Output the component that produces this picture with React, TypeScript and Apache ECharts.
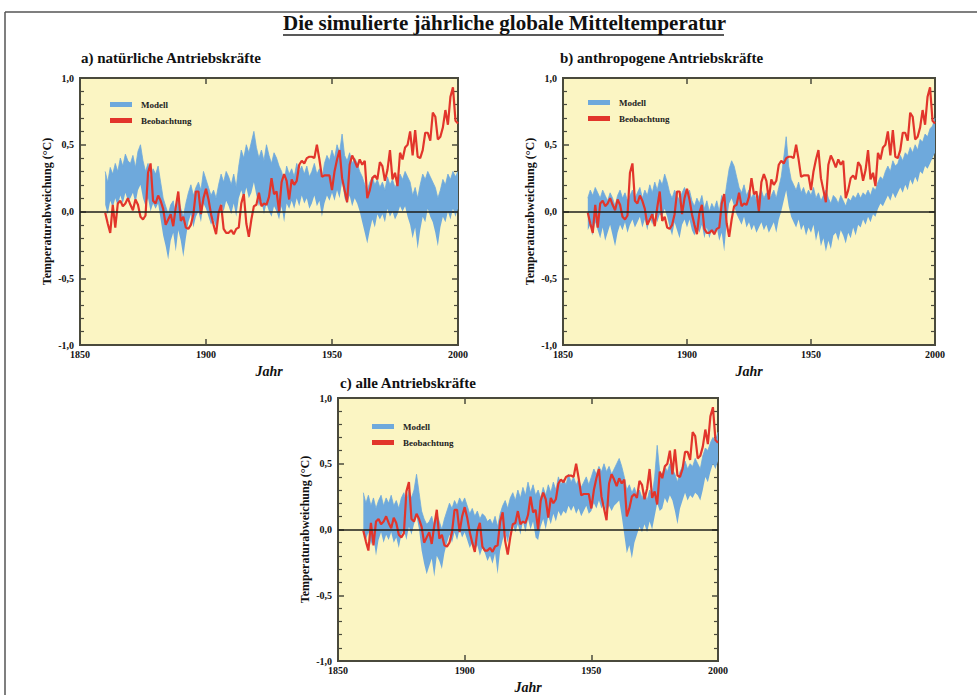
import React, { useEffect, useRef } from "react";
import * as echarts from "echarts";

const SERIF = '"Liberation Serif", "DejaVu Serif", serif';
const BLUE = "#6ea9dc";
const RED = "#e2352b";
const FRAME = "#4a4a3c";
const PLOT_BG = "#fbf5c3";

const TITLE = "Die simulierte jährliche globale Mitteltemperatur";
const PANEL_TITLES = ["a) natürliche Antriebskräfte", "b) anthropogene Antriebskräfte", "c) alle Antriebskräfte"];
const LEGEND_NAMES = ["Modell", "Beobachtung"];
const Y_NAME = "Temperaturabweichung (°C)";
const X_NAME = "Jahr";
const FIRST_YEAR = 1850;
const LAST_YEAR = 2000;
const DATA_START = 1860;
const YEARS = Array.from({ length: LAST_YEAR - FIRST_YEAR + 1 }, (_, i) => String(FIRST_YEAR + i));

// Beobachtung 1860–2000
const OBS = [
  -0.01, -0.09, -0.16, 0.05, -0.12, 0.06, 0.08, 0.04, 0.06, 0.10,
  0.05, 0.01, 0.09, 0.05, -0.04, -0.06, -0.03, 0.29, 0.36, 0.08,
  0.06, 0.12, 0.08, 0.02, -0.10, -0.06, -0.02, -0.11, 0.03, 0.15,
  -0.07, -0.04, -0.12, -0.13, -0.10, -0.02, 0.15, 0.15, -0.02, 0.10,
  0.17, 0.09, -0.02, -0.10, -0.17, -0.01, 0.05, -0.13, -0.16, -0.16,
  -0.14, -0.17, -0.13, -0.12, 0.06, 0.13, -0.09, -0.19, -0.06, 0.04,
  0.05, 0.14, 0.04, 0.06, 0.05, 0.11, 0.25, 0.13, 0.15, 0.00,
  0.22, 0.28, 0.23, 0.09, 0.24, 0.20, 0.23, 0.35, 0.38, 0.36,
  0.40, 0.41, 0.41, 0.40, 0.50, 0.39, 0.26, 0.27, 0.27, 0.27,
  0.16, 0.30, 0.39, 0.46, 0.25, 0.16, 0.07, 0.35, 0.42, 0.38,
  0.33, 0.39, 0.35, 0.38, 0.10, 0.16, 0.25, 0.27, 0.24, 0.37,
  0.34, 0.23, 0.31, 0.46, 0.24, 0.29, 0.19, 0.44, 0.39, 0.48,
  0.50, 0.60, 0.42, 0.61, 0.41, 0.40, 0.46, 0.59, 0.59, 0.53,
  0.74, 0.71, 0.54, 0.56, 0.63, 0.76, 0.65, 0.86, 0.93, 0.68, 0.66,
];

// a) natürliche Antriebskräfte – Modellbereich
const NAT_HIGH = [
  0.30, 0.22, 0.33, 0.28, 0.36, 0.30, 0.40, 0.34, 0.43, 0.38,
  0.36, 0.42, 0.33, 0.45, 0.50, 0.38, 0.30, 0.36, 0.25, 0.32,
  0.28, 0.34, 0.22, 0.10, 0.04, -0.02, 0.05, 0.08, -0.04, 0.10,
  0.02, -0.04, 0.06, 0.14, 0.20, 0.12, 0.18, 0.22, 0.16, 0.30,
  0.24, 0.18, 0.12, 0.16, 0.10, 0.20, 0.28, 0.22, 0.30, 0.26,
  0.20, 0.28, 0.18, 0.34, 0.46, 0.40, 0.50, 0.44, 0.52, 0.60,
  0.48, 0.40, 0.46, 0.38, 0.50, 0.42, 0.36, 0.44, 0.40, 0.34,
  0.30, 0.22, 0.34, 0.28, 0.32, 0.26, 0.36, 0.30, 0.34, 0.28,
  0.34, 0.26, 0.30, 0.36, 0.28, 0.32, 0.24, 0.36, 0.42, 0.38,
  0.46, 0.40, 0.50, 0.44, 0.58, 0.42, 0.38, 0.44, 0.36, 0.40,
  0.36, 0.30, 0.26, 0.20, 0.16, 0.22, 0.26, 0.20, 0.24, 0.18,
  0.22, 0.16, 0.26, 0.20, 0.24, 0.18, 0.22, 0.28, 0.24, 0.30,
  0.26, 0.22, 0.12, 0.18, 0.10, 0.20, 0.28, 0.24, 0.30, 0.26,
  0.22, 0.18, 0.10, 0.16, 0.24, 0.20, 0.28, 0.24, 0.30, 0.26, 0.30,
];
const NAT_LOW = [
  0.05, -0.02, 0.08, 0.03, 0.10, 0.04, 0.12, 0.06, 0.14, 0.08,
  0.10, 0.14, 0.06, 0.16, 0.20, 0.10, 0.04, 0.10, 0.00, 0.06,
  0.02, 0.06, -0.06, -0.18, -0.26, -0.36, -0.22, -0.16, -0.30, -0.14,
  -0.22, -0.34, -0.20, -0.08, -0.02, -0.12, -0.04, 0.00, -0.08, 0.06,
  0.02, -0.04, -0.10, -0.06, -0.12, -0.02, 0.06, 0.00, 0.08, 0.04,
  -0.02, 0.06, -0.04, 0.10, 0.16, 0.10, 0.18, 0.10, 0.14, 0.22,
  0.12, 0.04, 0.08, -0.02, 0.06, 0.00, -0.04, 0.04, 0.00, -0.06,
  0.04, -0.08, 0.06, 0.02, 0.08, 0.02, 0.10, 0.04, 0.12, 0.06,
  0.10, 0.02, 0.06, 0.12, 0.04, 0.08, -0.04, 0.06, 0.12, 0.08,
  0.14, 0.08, 0.16, 0.10, 0.22, 0.10, 0.06, 0.12, 0.04, 0.10,
  0.06, 0.00, -0.08, -0.16, -0.24, -0.14, -0.06, -0.12, -0.02, -0.06,
  -0.02, -0.08, 0.02, -0.04, 0.00, -0.06, -0.02, 0.04, 0.00, 0.04,
  -0.04, -0.10, -0.20, -0.12, -0.28, -0.14, -0.04, -0.08, 0.02, -0.04,
  -0.08, -0.16, -0.26, -0.12, -0.04, -0.08, 0.00, -0.06, 0.02, -0.04, 0.02,
];

// b) anthropogene Antriebskräfte – Modellbereich
const ANT_HIGH = [
  0.10, 0.16, 0.12, 0.18, 0.14, 0.10, 0.16, 0.12, 0.08, 0.14,
  0.10, 0.04, 0.12, 0.16, 0.10, 0.14, 0.08, 0.12, 0.16, 0.10,
  0.14, 0.18, 0.10, 0.16, 0.12, 0.20, 0.14, 0.22, 0.16, 0.24,
  0.20, 0.28, 0.22, 0.14, 0.10, 0.16, 0.12, 0.08, 0.14, 0.18,
  0.12, 0.16, 0.08, 0.04, 0.10, 0.06, 0.12, 0.02, 0.08, 0.00,
  0.06, 0.02, 0.08, 0.00, 0.12, 0.06, 0.20, 0.32, 0.38, 0.34,
  0.26, 0.18, 0.14, 0.20, 0.12, 0.16, 0.10, 0.14, 0.08, 0.12,
  0.16, 0.10, 0.14, 0.08, 0.12, 0.16, 0.10, 0.18, 0.26, 0.40,
  0.56, 0.34, 0.24, 0.20, 0.16, 0.22, 0.14, 0.18, 0.12, 0.16,
  0.12, 0.18, 0.10, 0.14, 0.08, 0.12, 0.16, 0.10, 0.06, 0.12,
  0.10, 0.06, 0.12, 0.08, 0.04, 0.10, 0.08, 0.12, 0.10, 0.14,
  0.10, 0.14, 0.12, 0.16, 0.12, 0.18, 0.16, 0.22, 0.26, 0.24,
  0.30, 0.34, 0.30, 0.38, 0.34, 0.36, 0.42, 0.38, 0.44, 0.42,
  0.48, 0.44, 0.50, 0.46, 0.54, 0.52, 0.58, 0.56, 0.62, 0.64, 0.70,
];
const ANT_LOW = [
  -0.14, -0.10, -0.18, -0.08, -0.14, -0.20, -0.12, -0.22, -0.16, -0.10,
  -0.18, -0.26, -0.16, -0.10, -0.14, -0.08, -0.16, -0.10, -0.06, -0.12,
  -0.08, -0.04, -0.12, -0.06, -0.14, -0.04, -0.10, 0.00, -0.08, -0.02,
  -0.04, 0.02, -0.04, -0.12, -0.18, -0.08, -0.14, -0.20, -0.10, -0.06,
  -0.12, -0.06, -0.14, -0.18, -0.12, -0.16, -0.10, -0.20, -0.12, -0.20,
  -0.14, -0.18, -0.12, -0.22, -0.16, -0.30, -0.08, 0.06, 0.10, 0.04,
  -0.02, -0.06, -0.10, -0.04, -0.12, -0.08, -0.14, -0.10, -0.16, -0.12,
  -0.08, -0.14, -0.10, -0.16, -0.12, -0.08, -0.16, -0.06, 0.00, 0.08,
  0.16, 0.04, -0.04, -0.08, -0.12, -0.06, -0.14, -0.10, -0.18, -0.12,
  -0.16, -0.10, -0.22, -0.14, -0.26, -0.20, -0.30, -0.22, -0.28, -0.18,
  -0.16, -0.22, -0.14, -0.18, -0.24, -0.16, -0.20, -0.12, -0.18, -0.10,
  -0.12, -0.06, -0.10, -0.04, -0.08, -0.02, -0.04, 0.02, 0.06, 0.04,
  0.08, 0.12, 0.08, 0.14, 0.10, 0.14, 0.18, 0.14, 0.20, 0.16,
  0.24, 0.20, 0.26, 0.22, 0.30, 0.28, 0.34, 0.32, 0.36, 0.40, 0.44,
];

// c) alle Antriebskräfte – Modellbereich
const ALL_HIGH = [
  0.28, 0.20, 0.26, 0.18, 0.24, 0.16, 0.22, 0.26, 0.18, 0.24,
  0.20, 0.26, 0.18, 0.22, 0.16, 0.24, 0.28, 0.20, 0.30, 0.24,
  0.30, 0.42, 0.28, 0.14, 0.08, 0.04, 0.06, 0.10, 0.02, 0.12,
  0.06, 0.00, 0.08, 0.14, 0.20, 0.16, 0.22, 0.18, 0.24, 0.20,
  0.24, 0.18, 0.12, 0.16, 0.10, 0.14, 0.08, 0.12, 0.10, 0.06,
  0.08, 0.04, 0.10, 0.02, 0.12, 0.18, 0.22, 0.16, 0.24, 0.28,
  0.22, 0.30, 0.24, 0.32, 0.26, 0.36, 0.28, 0.34, 0.26, 0.30,
  0.24, 0.32, 0.26, 0.34, 0.28, 0.36, 0.30, 0.40, 0.34, 0.38,
  0.34, 0.42, 0.36, 0.40, 0.34, 0.38, 0.32, 0.36, 0.40, 0.34,
  0.40, 0.46, 0.42, 0.48, 0.44, 0.50, 0.44, 0.48, 0.42, 0.46,
  0.50, 0.54, 0.48, 0.40, 0.30, 0.34, 0.28, 0.32, 0.26, 0.30,
  0.24, 0.28, 0.22, 0.30, 0.26, 0.40, 0.64, 0.44, 0.42, 0.48,
  0.44, 0.50, 0.46, 0.42, 0.36, 0.44, 0.48, 0.52, 0.46, 0.50,
  0.48, 0.54, 0.50, 0.46, 0.56, 0.62, 0.60, 0.66, 0.70, 0.68, 0.74,
];
const ALL_LOW = [
  0.00, -0.08, -0.02, -0.12, -0.06, -0.20, -0.08, -0.02, -0.10, -0.04,
  -0.08, -0.02, -0.10, -0.06, -0.14, -0.04, 0.00, -0.08, 0.02, -0.04,
  0.04, 0.10, 0.00, -0.16, -0.26, -0.34, -0.28, -0.22, -0.36, -0.20,
  -0.24, -0.30, -0.18, -0.10, -0.04, -0.10, -0.02, -0.08, 0.00, -0.06,
  -0.02, -0.08, -0.14, -0.10, -0.16, -0.12, -0.20, -0.14, -0.18, -0.24,
  -0.20, -0.26, -0.18, -0.34, -0.16, -0.08, -0.02, -0.10, 0.00, 0.04,
  -0.02, 0.04, -0.04, 0.06, -0.02, 0.08, 0.00, 0.06, -0.06, -0.08,
  0.02, 0.08, 0.00, 0.10, 0.04, 0.12, 0.06, 0.14, 0.10, 0.14,
  0.12, 0.18, 0.14, 0.18, 0.12, 0.16, 0.10, 0.14, 0.18, 0.12,
  0.14, 0.20, 0.16, 0.22, 0.16, 0.20, 0.12, 0.18, 0.14, 0.18,
  0.20, 0.22, 0.10, -0.04, -0.18, -0.12, -0.22, -0.10, -0.04, 0.02,
  -0.02, 0.04, -0.02, 0.06, 0.00, 0.10, 0.20, 0.14, 0.16, 0.24,
  0.20, 0.26, 0.22, 0.14, 0.04, 0.16, 0.22, 0.28, 0.22, 0.26,
  0.24, 0.28, 0.26, 0.22, 0.30, 0.40, 0.36, 0.44, 0.50, 0.46, 0.52,
];

const PANELS = [
  { low: NAT_LOW, high: NAT_HIGH },
  { low: ANT_LOW, high: ANT_HIGH },
  { low: ALL_LOW, high: ALL_HIGH },
];

const GRIDS = [
  { left: 80, top: 78, width: 378, height: 267 },
  { left: 563, top: 78, width: 372, height: 267 },
  { left: 338, top: 398, width: 380, height: 265 },
];
const LEGEND_POS = [
  [110, 100],
  [588, 98],
  [372, 422],
];
const PANEL_TITLE_POS = [
  [81, 50],
  [560, 50],
  [340, 375],
];

function buildOption() {
  const pad = new Array(DATA_START - FIRST_YEAR).fill(null);
  const labelStyle = { fontFamily: SERIF, fontWeight: "bold", fontSize: 10, color: "#111" };
  const xAxis: any[] = [];
  const yAxis: any[] = [];
  const series: any[] = [];
  GRIDS.forEach((_, i) => {
    const xBase = {
      gridIndex: i,
      type: "category",
      data: YEARS,
      boundaryGap: false,
      axisLine: { show: true, onZero: false, lineStyle: { color: FRAME, width: 2 } },
      axisTick: { show: true, inside: true, interval: 49, length: 6, lineStyle: { color: FRAME, width: 1.5 } },
      splitLine: { show: false },
    };
    xAxis.push({
      ...xBase,
      position: "bottom",
      axisLabel: { ...labelStyle, interval: 49, margin: 4 },
      name: X_NAME,
      nameLocation: "middle",
      nameGap: 19,
      nameTextStyle: { fontFamily: SERIF, fontWeight: "bold", fontStyle: "italic", fontSize: 14, color: "#111" },
    });
    xAxis.push({ ...xBase, position: "top", axisLabel: { show: false } });
    const yBase = {
      gridIndex: i,
      type: "value",
      min: -1,
      max: 1,
      interval: 0.5,
      axisLine: { show: true, onZero: false, lineStyle: { color: FRAME, width: 2 } },
      axisTick: { show: true, inside: true, length: 6, lineStyle: { color: FRAME, width: 1.5 } },
      minorTick: { show: true, splitNumber: 5, length: 4, lineStyle: { color: FRAME, width: 1.2 } },
      splitLine: { show: false },
    };
    yAxis.push({
      ...yBase,
      position: "left",
      axisLabel: { ...labelStyle, margin: 6, formatter: (v: number) => v.toFixed(1).replace(".", ",") },
      name: Y_NAME,
      nameLocation: "middle",
      nameGap: 27,
      nameRotate: 90,
      nameTextStyle: { fontFamily: SERIF, fontWeight: "bold", fontSize: 12, color: "#111" },
    });
    yAxis.push({ ...yBase, position: "right", axisLabel: { show: false } });

    const { low, high } = PANELS[i];
    const stack = "band" + i;
    series.push({
      type: "line",
      name: "base" + i,
      xAxisIndex: 2 * i,
      yAxisIndex: 2 * i,
      stack,
      stackStrategy: "all",
      data: pad.concat(low),
      symbol: "none",
      lineStyle: { opacity: 0 },
      silent: true,
      z: 1,
    });
    series.push({
      type: "line",
      name: LEGEND_NAMES[0],
      xAxisIndex: 2 * i,
      yAxisIndex: 2 * i,
      stack,
      stackStrategy: "all",
      data: pad.concat(high.map((h, k) => +(h - low[k]).toFixed(2))),
      symbol: "none",
      color: BLUE,
      itemStyle: { color: BLUE },
      lineStyle: { width: 0.8, color: BLUE },
      areaStyle: { color: BLUE, opacity: 1 },
      z: 2,
    });
    series.push({
      type: "line",
      name: LEGEND_NAMES[1],
      xAxisIndex: 2 * i,
      yAxisIndex: 2 * i,
      data: pad.concat(OBS),
      symbol: "none",
      color: RED,
      itemStyle: { color: RED },
      lineStyle: { width: 2.2, color: RED },
      z: 3,
      markLine: {
        silent: true,
        symbol: ["none", "none"],
        label: { show: false },
        lineStyle: { color: "#1e1e1a", width: 1.6, type: "solid" },
        data: [{ yAxis: 0 }],
      },
    });
  });

  return {
    animation: false,
    backgroundColor: "#ffffff",
    title: [
      {
        text: TITLE,
        left: 283,
        top: 12,
        padding: 0,
        textStyle: { fontFamily: SERIF, fontWeight: "bold", fontSize: 21, color: "#111" },
      },
      ...PANEL_TITLES.map((t, i) => ({
        text: t,
        left: PANEL_TITLE_POS[i][0],
        top: PANEL_TITLE_POS[i][1],
        padding: 0,
        textStyle: { fontFamily: SERIF, fontWeight: "bold", fontSize: 15, color: "#111" },
      })),
    ],
    legend: LEGEND_POS.map(([l, t]) => ({
      left: l,
      top: t,
      orient: "vertical",
      padding: 0,
      itemWidth: 22,
      itemHeight: 5,
      itemGap: 7,
      selectedMode: false,
      data: LEGEND_NAMES.map((n) => ({ name: n, icon: "rect" })),
      textStyle: { fontFamily: SERIF, fontWeight: "bold", fontSize: 9, color: "#222", padding: [0, 0, 0, 4] },
    })),
    grid: GRIDS.map((g) => ({
      ...g,
      show: true,
      backgroundColor: PLOT_BG,
      borderColor: FRAME,
      borderWidth: 2,
      containLabel: false,
    })),
    xAxis,
    yAxis,
    series,
    graphic: [
      { type: "line", shape: { x1: 5, y1: 12, x2: 977, y2: 12 }, style: { stroke: "#555", lineWidth: 1.5 } },
      { type: "line", shape: { x1: 5, y1: 12, x2: 5, y2: 695 }, style: { stroke: "#555", lineWidth: 1.5 } },
      { type: "line", shape: { x1: 283, y1: 35, x2: 724, y2: 35 }, style: { stroke: "#222", lineWidth: 1.5 } },
    ],
  };
}

export default function App() {
  const ref = useRef<HTMLDivElement>(null);
  useEffect(() => {
    document.body.style.margin = "0";
    if (!ref.current) return;
    const chart = echarts.init(ref.current, undefined, { renderer: "svg" });
    chart.setOption(buildOption() as any);
    return () => chart.dispose();
  }, []);
  return <div ref={ref} style={{ position: "absolute", left: 0, top: 0, width: 977, height: 695 }} />;
}
